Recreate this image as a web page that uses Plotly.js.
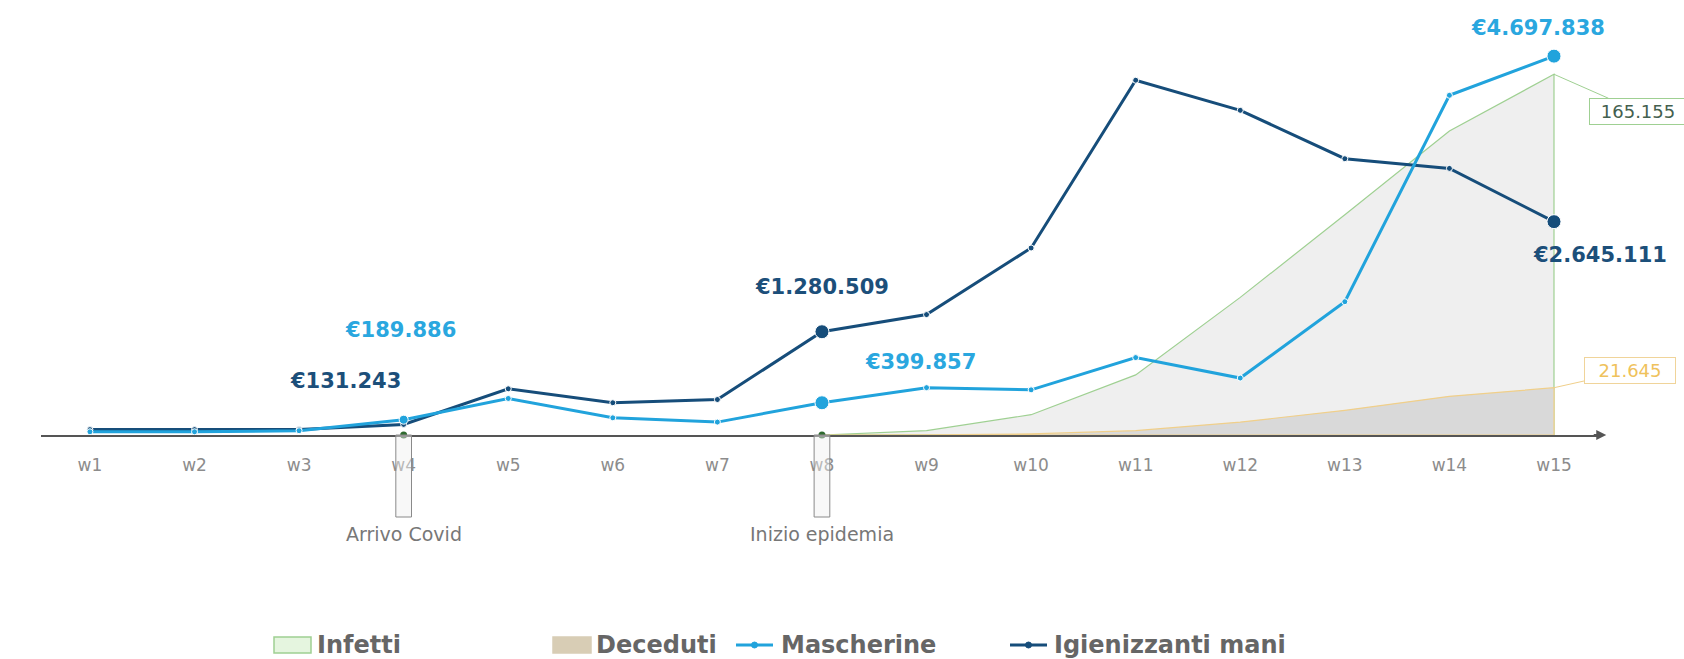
<!DOCTYPE html>
<html>
<head>
<meta charset="utf-8">
<script src="https://cdn.plot.ly/plotly-3.0.1.min.js"></script>
<style>html,body{margin:0;padding:0;background:#fff;}#chart{width:1684px;height:659px;}</style>
</head>
<body>
<div id="chart"></div>
<script>
// ---- data ----
const weeks = ['w1','w2','w3','w4','w5','w6','w7','w8','w9','w10','w11','w12','w13','w14','w15'];
const mascherine = [40000, 40000, 53000, 189886, 453000, 213000, 160000, 399857, 587000, 560000, 960000, 706000, 1653000, 4212000, 4697838];
const igienizzanti = [67000, 67000, 67000, 131243, 573000, 400000, 440000, 1280509, 1493000, 2319000, 4399000, 4026000, 3426000, 3306000, 2645111];
const infetti = [null, null, null, null, null, null, null, 0, 2000, 9300, 27500, 63000, 100800, 139200, 165155];
const deceduti = [null, null, null, null, null, null, null, 0, 30, 490, 1970, 5900, 11300, 17700, 21645];
const eventWeeks = ['w4', 'w8'];
const eventLabels = ['Arrivo Covid', 'Inizio epidemia'];
const seriesNames = ['Infetti', 'Deceduti', 'Mascherine', 'Igienizzanti mani'];

// ---- helpers ----
const FONT = 'DejaVu Sans, Verdana, Arial, sans-serif';
const C_LIGHT = '#21a3dc';
const C_DARK = '#164d7a';
const C_INF_LINE = '#9fd092';
const C_DEC_LINE = '#f0cf8a';
const fmt = v => String(v).replace(/\B(?=(\d{3})+(?!\d))/g, '.');
const euro = v => '€' + fmt(v);

function polygon(vals) {
  const xs = [], ys = [];
  vals.forEach((v, i) => { if (v !== null) { xs.push(weeks[i]); ys.push(v); } });
  const first = xs[0], last = xs[xs.length - 1];
  return { x: xs.concat([last, first]), y: ys.concat([0, 0]) };
}
const infPoly = polygon(infetti);
const decPoly = polygon(deceduti);

const sizeFor = (big, mid, small) => weeks.map(w => big.includes(w) ? 14 : (mid.includes(w) ? 9 : small));

const traces = [
  { x: infPoly.x, y: infPoly.y, yaxis: 'y', type: 'scatter', mode: 'lines', fill: 'toself', name: seriesNames[0],
    fillcolor: 'rgba(239,239,239,1)', line: { color: C_INF_LINE, width: 1.2 }, showlegend: false, hoverinfo: 'skip' },
  { x: decPoly.x, y: decPoly.y, yaxis: 'y', type: 'scatter', mode: 'lines', fill: 'toself', name: seriesNames[1],
    fillcolor: 'rgba(217,217,217,1)', line: { color: C_DEC_LINE, width: 1.2 }, showlegend: false, hoverinfo: 'skip' },
  { x: eventWeeks, y: eventWeeks.map(() => 0), yaxis: 'y', type: 'scatter', mode: 'markers',
    marker: { color: '#2f6b2f', size: 7, opacity: 1 }, showlegend: false, cliponaxis: false, hoverinfo: 'skip' },
  { x: weeks, y: igienizzanti, yaxis: 'y2', type: 'scatter', mode: 'lines+markers', name: seriesNames[3],
    line: { color: C_DARK, width: 3 }, marker: { color: C_DARK, opacity: 1, size: sizeFor(['w8','w15'], [], 6) },
    showlegend: false, cliponaxis: false },
  { x: weeks, y: mascherine, yaxis: 'y2', type: 'scatter', mode: 'lines+markers', name: seriesNames[2],
    line: { color: C_LIGHT, width: 3 }, marker: { color: C_LIGHT, opacity: 1, size: sizeFor(['w8','w15'], ['w4'], 6) },
    showlegend: false, cliponaxis: false }
];

// ---- layout geometry ----
const ML = 41, MR = 84, MT = 20, MB = 224, W = 1684, H = 659;
const PW = W - ML - MR, PH = H - MT - MB;
const px2x = px => (px - ML) / PW;
const px2y = py => (H - MB - py) / PH;

const annotations = [];
const lbl = (arr, wk, color, dx, dy) => {
  const i = weeks.indexOf(wk);
  annotations.push({ xref: 'x', yref: 'y2', x: wk, y: arr[i], text: '<b>' + euro(arr[i]) + '</b>',
    showarrow: false, xshift: dx, yshift: dy, font: { family: FONT, size: 21, color: color } });
};
lbl(mascherine, 'w4', '#2aa7df', -3, 90);
lbl(igienizzanti, 'w4', '#1c4f7a', -58, 43);
lbl(igienizzanti, 'w8', '#1c4f7a', 0, 45);
lbl(mascherine, 'w8', '#2aa7df', 99, 41);
lbl(mascherine, 'w15', '#2aa7df', -16, 28);
lbl(igienizzanti, 'w15', '#1c4f7a', 46, -33);

annotations.push({ xref: 'x', yref: 'y', x: 'w15', y: infetti[14], text: fmt(infetti[14]),
  showarrow: true, arrowhead: 0, arrowwidth: 1, arrowcolor: C_INF_LINE, ax: 84, ay: 37,
  bordercolor: C_INF_LINE, borderwidth: 1, borderpad: 2, bgcolor: '#ffffff', width: 92,
  font: { family: FONT, size: 18, color: '#44604f' } });
annotations.push({ xref: 'x', yref: 'y', x: 'w15', y: deceduti[14], text: fmt(deceduti[14]),
  showarrow: true, arrowhead: 0, arrowwidth: 1, arrowcolor: C_DEC_LINE, ax: 76, ay: -17,
  bordercolor: '#f0d49a', borderwidth: 1, borderpad: 2, bgcolor: '#ffffff', width: 86,
  font: { family: FONT, size: 18, color: '#efc25c' } });

// axis arrow
annotations.push({ xref: 'paper', yref: 'paper', x: 1.004, y: 0, ax: -14, ay: 0, text: '',
  showarrow: true, arrowhead: 2, arrowsize: 1, arrowwidth: 2, arrowcolor: '#555' });

const shapes = [];
eventWeeks.forEach((wk, k) => {
  const i = weeks.indexOf(wk);
  shapes.push({ type: 'rect', xref: 'x', yref: 'paper', x0: i - 0.075, x1: i + 0.075,
    y0: 0, y1: px2y(517), line: { color: '#8a8a8a', width: 1 }, fillcolor: 'rgba(240,240,240,0.45)', layer: 'above' });
  annotations.push({ xref: 'x', yref: 'paper', x: wk, y: px2y(534), yanchor: 'middle', text: eventLabels[k],
    showarrow: false, font: { family: FONT, size: 19, color: '#777' } });
});

// ---- legend (drawn as shapes + text so it does not resize the plot) ----
const LEG_Y = 645;
const legFont = { family: FONT, size: 24, color: '#666' };
const legItems = [
  { icon: 'rect', x0: 274, x1: 311, fill: '#e5f5df', line: C_INF_LINE, tx: 315 },
  { icon: 'rect', x0: 553, x1: 591, fill: '#d8cdb5', line: '#d8cdb5', tx: 594 },
  { icon: 'line', x0: 736, x1: 773, color: C_LIGHT, tx: 779 },
  { icon: 'line', x0: 1010, x1: 1047, color: C_DARK, tx: 1052 }
];
legItems.forEach((it, k) => {
  if (it.icon === 'rect') {
    shapes.push({ type: 'rect', xref: 'paper', yref: 'paper', x0: px2x(it.x0), x1: px2x(it.x1),
      y0: px2y(LEG_Y - 8), y1: px2y(LEG_Y + 8), line: { color: it.line, width: 1.5 }, fillcolor: it.fill });
  } else {
    shapes.push({ type: 'line', xref: 'paper', yref: 'paper', x0: px2x(it.x0), x1: px2x(it.x1),
      y0: px2y(LEG_Y), y1: px2y(LEG_Y), line: { color: it.color, width: 3 } });
    const cx = (it.x0 + it.x1) / 2;
    shapes.push({ type: 'circle', xref: 'paper', yref: 'paper', x0: px2x(cx - 3), x1: px2x(cx + 3),
      y0: px2y(LEG_Y + 3), y1: px2y(LEG_Y - 3), line: { color: it.color, width: 1 }, fillcolor: it.color });
  }
  annotations.push({ xref: 'paper', yref: 'paper', x: px2x(it.tx), y: px2y(LEG_Y), xanchor: 'left', yanchor: 'middle',
    text: '<b>' + seriesNames[k] + '</b>', showarrow: false, font: legFont });
});

const layout = {
  width: W, height: H,
  margin: { l: ML, r: MR, t: MT, b: MB },
  paper_bgcolor: '#fff', plot_bgcolor: '#fff',
  showlegend: false,
  xaxis: { type: 'category', categoryarray: weeks, range: [-0.468, 14.44], showline: true, linecolor: '#555',
    linewidth: 2, ticks: '', showgrid: false, zeroline: false, ticklabelstandoff: 14,
    tickfont: { family: FONT, size: 17, color: '#8c8c8c' } },
  yaxis: { range: [0, 190000], showgrid: false, zeroline: false, showticklabels: false, showline: false },
  yaxis2: { range: [0, 5146000], overlaying: 'y', showgrid: false, zeroline: false, showticklabels: false, showline: false },
  annotations: annotations,
  shapes: shapes
};

Plotly.newPlot('chart', traces, layout, { displayModeBar: false, staticPlot: true });
</script>
</body>
</html>
